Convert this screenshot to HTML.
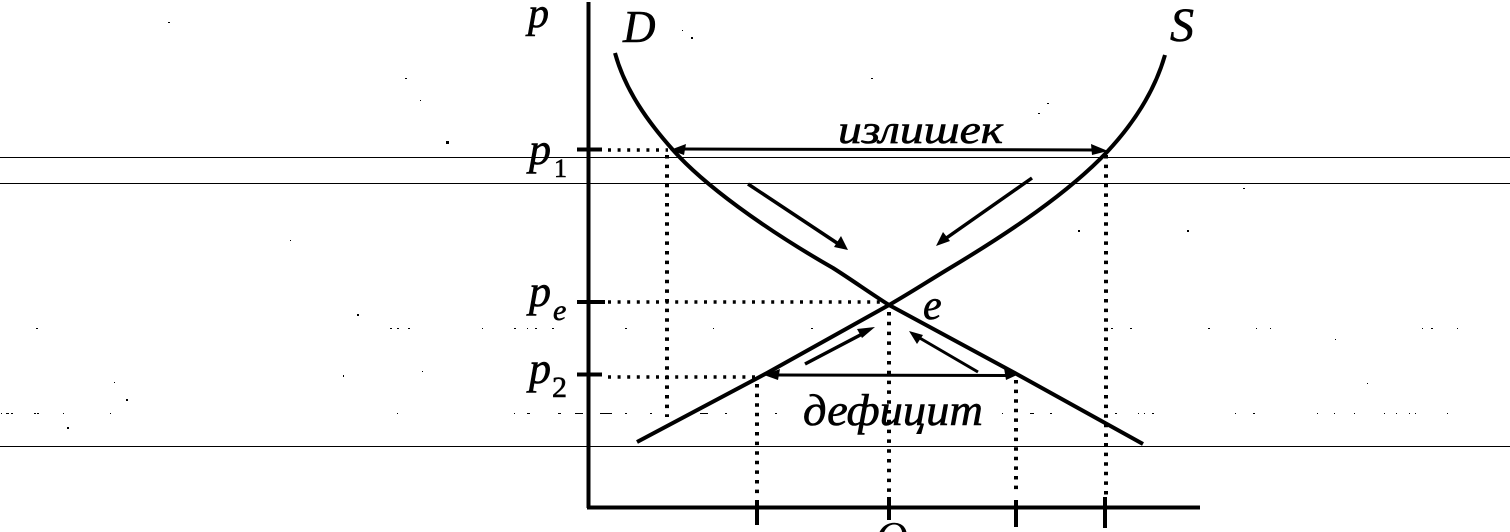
<!DOCTYPE html>
<html><head><meta charset="utf-8"><style>
html,body{margin:0;padding:0;background:#fff;width:1510px;height:532px;overflow:hidden}
body{position:relative}
svg{display:block}
text,#q{font-family:"Liberation Serif","Times New Roman",serif;font-style:italic;fill:#000;color:#000}
text{stroke:#000;stroke-width:.6}
#q{position:absolute;left:875px;top:521px;width:40px;height:11px;overflow:hidden;font-size:45px;line-height:15px}
#q span{position:relative;top:10px;display:block;line-height:15px}
</style></head><body>
<svg width="1510" height="532" viewBox="0 0 1510 532" xmlns="http://www.w3.org/2000/svg">
<rect width="1510" height="532" fill="#fff"/>
<g stroke="#000" stroke-width="1" shape-rendering="crispEdges">
<line x1="0" y1="157.5" x2="1510" y2="157.5"/>
<line x1="0" y1="183.5" x2="1510" y2="183.5"/>
<line x1="0" y1="446.5" x2="1510" y2="446.5"/>
</g>
<g stroke="#000" stroke-width="4" fill="none">
<line x1="588.5" y1="2" x2="588.5" y2="508"/>
<line x1="587" y1="507.5" x2="1200" y2="507.5"/>
<line x1="577" y1="149.5" x2="602" y2="149.5"/>
<line x1="577" y1="302" x2="605" y2="302"/>
<line x1="577" y1="374.5" x2="602" y2="374.5"/>
<line x1="757" y1="500" x2="757" y2="525"/>
<line x1="889" y1="497" x2="889" y2="520"/>
<line x1="1016" y1="500" x2="1016" y2="527"/>
<line x1="1105" y1="497" x2="1105" y2="528"/>
</g>
<g stroke="#000" stroke-width="4" fill="none" stroke-linejoin="round">
<path d="M615 53 C625 90 648 122 673 150 C703 184 763 228 833 268 C852 280 870 293 889 305 L1013 372 L1143 444"/>
<path d="M1165 55 C1155 90 1135 122 1107 152 C1068 193 1010 232 950 268 C930 280 910 293 889 305 L767 373 L637 442"/>
</g>
<g stroke="#000" stroke-width="4" fill="none">
<line x1="608" y1="150" x2="668" y2="150" stroke-width="3.5" stroke-dasharray="3 6.6"/>
<line x1="608" y1="302" x2="886" y2="302" stroke-width="3.5" stroke-dasharray="3 6.6"/>
<line x1="608" y1="377" x2="760" y2="377" stroke-width="3.5" stroke-dasharray="3 6.6"/>
<line x1="667" y1="155" x2="667" y2="417" stroke-dasharray="3.5 6.1"/>
<line x1="1106" y1="155" x2="1106" y2="500" stroke-dasharray="3.5 6.1"/>
<line x1="889" y1="312" x2="889" y2="497" stroke-dasharray="3.5 6.3"/>
<line x1="757" y1="384" x2="757" y2="497" stroke-dasharray="3.5 6.1"/>
<line x1="1016" y1="380" x2="1016" y2="495" stroke-dasharray="3.5 6.1"/>
</g>
<g stroke="#000" fill="none">
<line x1="680" y1="149" x2="1098" y2="150" stroke-width="3"/>
<line x1="775" y1="375" x2="1008" y2="375.5" stroke-width="3"/>
<line x1="748" y1="184" x2="840" y2="245" stroke-width="3.5"/>
<line x1="1032" y1="178" x2="945" y2="239" stroke-width="3.5"/>
<line x1="805" y1="364" x2="866" y2="332" stroke-width="3.5"/>
<line x1="978" y1="372" x2="918" y2="337" stroke-width="3"/>
</g>
<g fill="#000">
<polygon points="670,150 686,144 684,155"/>
<polygon points="1108,151 1091,144 1092,155"/>
<polygon points="764,375 780,369 778,380"/>
<polygon points="1017,375 1004,368 1006,380"/>
<polygon points="848,250 834,247 841,236"/>
<polygon points="936,246 950,241 943,232"/>
<polygon points="875,327 862,338 857,329"/>
<polygon points="909,331 923,335 917,344"/>
</g>
<text x="528" y="27" font-size="42">p</text>
<text x="623" y="42" font-size="45">D</text>
<text x="1170" y="41" font-size="48">S</text>
<text x="529" y="164" font-size="44">p</text>
<text x="554" y="177" font-size="26" style="font-style:normal">1</text>
<text x="529" y="306" font-size="44">p</text>
<text x="553" y="320" font-size="30">e</text>
<text x="529" y="383" font-size="44">p</text>
<text x="552" y="397" font-size="30" style="font-style:normal">2</text>
<text x="923" y="319" font-size="42">e</text>
<text x="838" y="143" font-size="40" textLength="165" lengthAdjust="spacingAndGlyphs">излишек</text>
<text x="803" y="425" font-size="44" textLength="180" lengthAdjust="spacingAndGlyphs">дефицит</text>
<g shape-rendering="crispEdges" fill="#000">
<path d="M36 328h2v1h-2zM390 328h2v1h-2zM397 328h2v1h-2zM408 328h2v1h-2zM482 328h1v1h-1zM514 328h2v1h-2zM357 314h2v2h-2zM422 371h1v1h-1zM343 375h1v2h-1zM114 382h1v1h-1zM126 399h2v2h-2zM1 413h1v1h-1zM6 413h3v1h-3zM11 413h2v1h-2zM34 413h2v1h-2zM37 413h2v1h-2zM63 413h1v1h-1zM110 413h1v1h-1zM397 413h1v1h-1zM514 413h1v1h-1zM67 427h2v2h-2zM527 328h1v1h-1zM535 328h2v1h-2zM552 328h2v1h-2zM625 328h2v1h-2zM713 328h1v1h-1zM811 328h2v1h-2zM1111 328h2v1h-2zM1130 328h2v1h-2zM1208 328h2v1h-2zM1256 328h1v1h-1zM1270 328h1v1h-1zM1422 328h1v1h-1zM1431 328h2v1h-2zM1457 328h1v1h-1zM1335 339h1v1h-1zM1367 383h1v1h-1zM527 413h3v1h-3zM558 413h3v1h-3zM575 413h8v1h-8zM600 413h12v1h-12zM625 413h2v1h-2zM650 413h2v1h-2zM700 413h8v1h-8zM725 413h2v1h-2zM775 413h2v1h-2zM1002 413h1v1h-1zM1030 413h4v1h-4zM1050 413h2v1h-2zM1090 413h1v1h-1zM1115 413h2v1h-2zM1138 413h1v1h-1zM1144 413h1v1h-1zM1152 413h2v1h-2zM1235 413h1v1h-1zM1253 413h2v1h-2zM1317 413h1v1h-1zM1334 413h1v1h-1zM1354 413h1v1h-1zM1384 413h1v1h-1zM1396 413h1v1h-1zM1409 413h1v1h-1zM1415 413h1v1h-1zM1447 413h1v1h-1z"/>
<path d="M446 141h3v3h-3zM168 22h2v1h-2zM405 78h2v1h-2zM420 100h1v1h-1zM682 30h1v1h-1zM691 37h2v2h-2zM871 78h2v1h-2zM1047 103h2v1h-2zM1038 113h2v1h-2zM1243 188h2v1h-2zM1078 230h2v2h-2zM1187 230h2v2h-2zM290 240h1v1h-1z"/>
</g>
</svg>
<div id="q"><span>Q</span></div>
</body></html>
